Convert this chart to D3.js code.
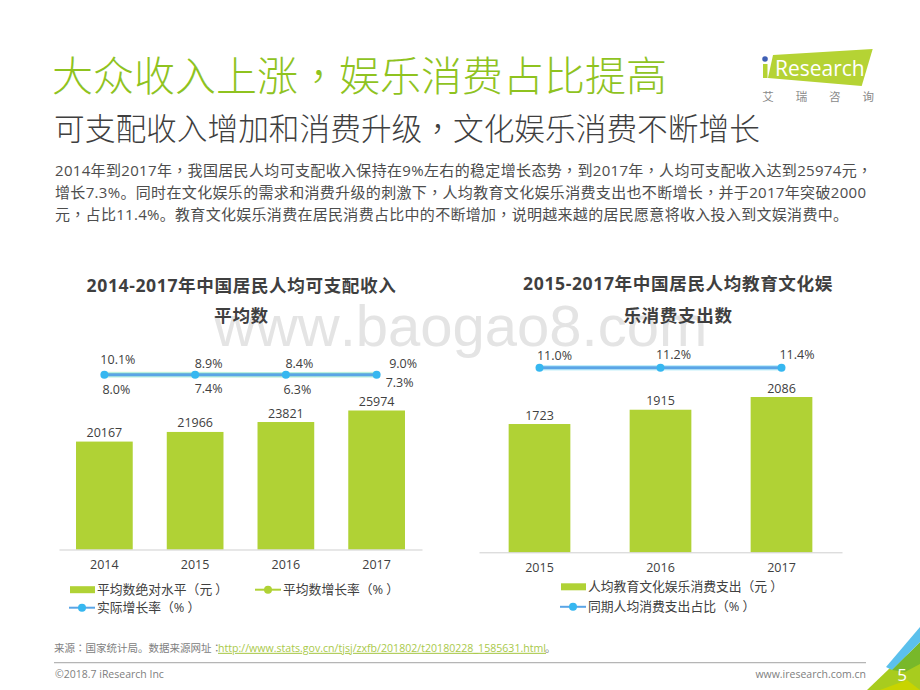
<!DOCTYPE html>
<html><head><meta charset="utf-8">
<script src="https://cdn.jsdelivr.net/npm/d3@7"></script>
<style>html,body{margin:0;padding:0;background:#fff}svg{display:block}
text{font-family:"Open Sans","Noto Sans CJK SC",sans-serif;font-kerning:none}</style></head><body>
<svg id="c" width="920" height="690"></svg>
<script>
const incomeYears=["2014","2015","2016","2017"];
const incomeValues=[20167,21966,23821,25974];
const avgGrowth=[10.1,8.9,8.4,9.0];
const realGrowth=[8.0,7.4,6.3,7.3];
const eduYears=["2015","2016","2017"];
const eduValues=[1723,1915,2086];
const eduShare=[11.0,11.2,11.4];
const title="大众收入上涨，娱乐消费占比提高";
const subtitle="可支配收入增加和消费升级，文化娱乐消费不断增长";
const bodyLines=["2014年到2017年，我国居民人均可支配收入保持在9%左右的稳定增长态势，到2017年，人均可支配收入达到25974元，",
"增长7.3%。同时在文化娱乐的需求和消费升级的刺激下，人均教育文化娱乐消费支出也不断增长，并于2017年突破2000",
"元，占比11.4%。教育文化娱乐消费在居民消费占比中的不断增加，说明越来越的居民愿意将收入投入到文娱消费中。"];
const bodyWidths=[817,811,793];

const G="#b0d235",B="#36b7f0",LB="#5aa5e6",TXT="#404040";
const svg=d3.select("#c");
const T=(x,y,s,size,fill,anchor,extra)=>{const t=svg.append("text").attr("x",x).attr("y",y).attr("dy","0.36em")
 .attr("font-size",size).attr("fill",fill||TXT).attr("text-anchor",anchor||"start");
 // full-width punctuation sits centred in its cell, as in the reference
 s.split(/([，：（）])/).filter(p=>p.length).forEach(p=>{
  const sp=t.append("tspan").text(p);
  if(/^[，：（）]$/.test(p))sp.style("font-family",'"Noto Sans CJK TC"');
  if(p==="）")sp.attr("dx","0.25em");
 });
 if(extra)extra(t);return t;};

// watermark
svg.append("text").attr("x",214).attr("y",346).attr("font-size",58).attr("fill","#e4e4e4")
 .style("font-family","'Liberation Sans'").text("www.baogao8.com");

// header
T(52,76,title,41,"#8fc31f",null,t=>t.attr("font-weight",300));
T(54,129,subtitle,30.7,"#3f3f3f",null,t=>t.attr("font-weight",300));
bodyLines.forEach((l,i)=>T(55,[171,192.5,215][i],l,15,"#4d4d4d",null,t=>t.attr("textLength",bodyWidths[i]).attr("lengthAdjust","spacing")));

// logo
svg.append("polygon").attr("points","773,55 872.7,49 861.7,86 768,78").attr("fill","#b5d334");
svg.append("circle").attr("cx",765).attr("cy",59).attr("r",2.8).attr("fill","#3f5fb5");
svg.append("polygon").attr("points","763,64 767.5,64 767.5,78 763,78").attr("fill","#b5d334");
T(775,68,"Research",21,"#fff").style("font-family","'Open Sans'");
["艾","瑞","咨","询"].forEach((c,i)=>T(768+i*33.4,97,c,11.5,"#8a8a8a","middle"));

function chart(cfg){
 const x=d3.scaleBand().domain(cfg.cats).range(cfg.xr).paddingInner(cfg.pad).paddingOuter(cfg.pad/2);
 const y=d3.scaleLinear().domain([0,cfg.ymax]).range([cfg.base,cfg.top]);
 const g=svg.append("g");
 g.selectAll("rect").data(cfg.values).join("rect")
  .attr("x",(d,i)=>x(cfg.cats[i])).attr("width",x.bandwidth())
  .attr("y",d=>y(d)).attr("height",d=>cfg.base-y(d)).attr("fill",G);
 const ax=svg.append("g").attr("transform",`translate(0,${cfg.base})`).call(d3.axisBottom(x).tickSize(0).tickPadding(cfg.tp));
 ax.select(".domain").attr("stroke","#cfcfcf").attr("stroke-width",1);
 ax.selectAll("text").attr("font-size",12.5).attr("fill",TXT).style("font-family","'Open Sans'");
 cfg.values.forEach((d,i)=>T(x(cfg.cats[i])+x.bandwidth()/2,y(d)-9,String(d),12.5,TXT,"middle"));
 const yL=d3.scaleLinear().domain(cfg.ld).range([cfg.base,cfg.top]);
 const cx=c=>x(c)+x.bandwidth()/2;
 cfg.series.forEach(s=>{
  const line=d3.line().x((d,i)=>cx(cfg.cats[i])).y(d=>yL(d));
  svg.append("path").attr("d",line(s.v)).attr("fill","none").attr("stroke",s.glow).attr("stroke-width",5.5).attr("stroke-opacity",0.7);
  svg.append("path").attr("d",line(s.v)).attr("fill","none").attr("stroke",s.c).attr("stroke-width",3);
 });
 const top=cfg.series[cfg.series.length-1];
 svg.append("g").selectAll("circle").data(top.v).join("circle")
  .attr("cx",(d,i)=>cx(cfg.cats[i])).attr("cy",d=>yL(d)).attr("r",4).attr("fill",B);
 cfg.labels.forEach(L=>L.v.forEach((d,i)=>T(cx(cfg.cats[i])+L.dx[i],L.y[i],d.toFixed(1)+"%",12.5,TXT,"middle")));
}
// left chart
chart({cats:incomeYears,values:incomeValues,xr:[59,422],pad:0.375,base:549.5,top:410.5,ymax:25974,tp:11,
 ld:[-1740,-350],
 series:[{v:avgGrowth,c:G,glow:"#d6ecb0"},{v:realGrowth,c:LB,glow:"#a8f0e8"}],
 labels:[{v:avgGrowth,dx:[13.5,13.5,13.5,26.5],y:[359,363.5,363.5,363.5]},
         {v:realGrowth,dx:[12,13.5,11.5,23],y:[389,388,389,382]}]});
// right chart
chart({cats:eduYears,values:eduValues,xr:[479,842],pad:0.49,base:552.3,top:397,ymax:2086,tp:11,
 ld:[-1835,-281],
 series:[{v:eduShare,c:LB,glow:"#a8e8f8"}],
 labels:[{v:eduShare,dx:[15,13,15.5],y:[355,354,354]}]});

// chart titles
const CT=(x,y,s)=>T(x,y,s,17.6,"#3f3f3f","middle",t=>t.attr("font-weight",700).attr("letter-spacing",0.6));
CT(241.5,286,"2014-2017年中国居民人均可支配收入");
CT(241.5,316,"平均数");
CT(678,284,"2015-2017年中国居民人均教育文化娱");
CT(678,316,"乐消费支出数");

// legends
const lgRect=(x,y,s)=>{svg.append("rect").attr("x",x).attr("y",y-3.5).attr("width",25).attr("height",7).attr("fill",G);T(x+27,y,s,12.8,TXT);};
const lgLine=(x,y,s,c)=>{svg.append("line").attr("x1",x).attr("x2",x+26).attr("y1",y).attr("y2",y).attr("stroke",c).attr("stroke-width",2);
 svg.append("circle").attr("cx",x+13).attr("cy",y).attr("r",4).attr("fill",c===G?G:B);T(x+28,y,s,12.8,TXT);};
lgRect(70,589.7,"平均数绝对水平（元）");
lgLine(255,589.7,"平均数增长率（%）",G);
lgLine(69,607.7,"实际增长率（%）",LB);
lgRect(561,586.8,"人均教育文化娱乐消费支出（元）");
lgLine(560,606.8,"同期人均消费支出占比（%）",LB);

// footer
T(54,648,"来源：国家统计局。数据来源网址：",10.5,"#808080");
const url="http://www.stats.gov.cn/tjsj/zxfb/201802/t20180228_1585631.html";
T(218,648,url,10.6,"#a9c94a",null,t=>t.attr("text-decoration","underline"));
T(545,648,"。",10.5,"#808080");
svg.append("line").attr("x1",54).attr("x2",866).attr("y1",662.7).attr("y2",662.7).attr("stroke","#b5b5b5").attr("stroke-width",1.2);
T(55,674,"©2018.7 iResearch Inc",10.5,"#808080");
T(866,674,"www.iresearch.com.cn",10.5,"#808080","end");

// corner
svg.append("polygon").attr("points","867,690 890,668 920,645 920,690").attr("fill","#a8cc1e");
svg.append("polygon").attr("points","892,670 920,642 920,664 905,672").attr("fill","#78b82a");
svg.append("polygon").attr("points","920,627 886,667 892,670 920,642").attr("fill","#5bc0ec");
svg.append("polygon").attr("points","880,690 907,680 920,690").attr("fill","#c8d400");
T(902,675,"5",17,"#fff","middle");
</script></body></html>
